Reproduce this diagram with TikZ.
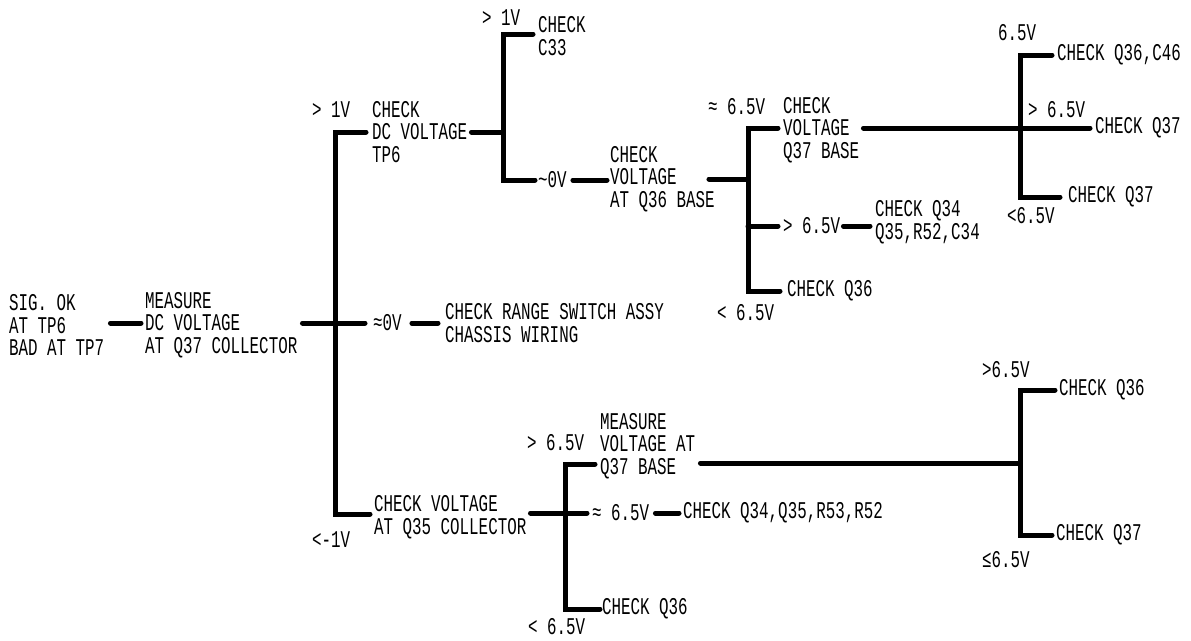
\documentclass[tikz,border=0pt]{standalone}
\usepackage{fontspec}
\newfontfamily\treefont[FakeStretch=0.66]{Liberation Mono}
\usetikzlibrary{positioning,calc}

\begin{document}
\begin{tikzpicture}[
            x=1pt, y=-1pt,
            font={\treefont\fontsize{24}{22.5}\selectfont},
            txt/.style={anchor=west, align=left, inner sep=0pt},
            volt/.style={anchor=west, inner sep=0pt},
            wire/.style={line width=5pt, line cap=round, line join=miter}
            ]
            \useasboundingbox (0,0) rectangle (1191,640);

            % ===== Start and first measurement =====
            \node[txt] (sig) at (9,325) {SIG. OK\\AT TP6\\BAD AT TP7};
            \node[txt] (meas) at (145,325) {MEASURE\\DC VOLTAGE\\AT Q37 COLLECTOR};
            \coordinate (t1) at (335,323);

            % ===== Branches of Q37 collector =====
            \node[txt] (dcv) at (372,132) {CHECK\\DC VOLTAGE\\TP6};
            \node[volt] (gtone) at (312,110) {> 1V};
            \node[volt] (zero) at (373,323) {≈0V};
            \node[txt] (range) at (445,323) {CHECK RANGE SWITCH ASSY\\CHASSIS WIRING};
            \node[txt] (qcoll) at (374,517) {CHECK VOLTAGE\\AT Q35 COLLECTOR};
            \node[volt] (ltone) at (312,540) {<-1V};

            % ===== TP6 branch =====
            \coordinate (t2) at (503,132);
            \node[txt] (cthree) at (538,36) {CHECK\\C33};
            \node[volt] (gtonetop) at (482,18) {> 1V};
            \node[volt] (nearzero) at (538,180) {\textasciitilde0V};
            \node[txt] (qbasesix) at (610,179) {CHECK\\VOLTAGE\\AT Q36 BASE};

            % ===== Q36 base branch =====
            \coordinate (t3) at (748,179);
            \node[txt] (qbaseseven) at (783,130) {CHECK\\VOLTAGE\\Q37 BASE};
            \node[volt] (apsix) at (708,107) {≈ 6.5V};
            \node[volt] (gtsix) at (783,226) {> 6.5V};
            \node[txt] (qfour) at (875,222) {CHECK Q34\\Q35,R52,C34};
            \node[volt] (qsixa) at (787,291) {CHECK Q36};
            \node[volt] (ltsix) at (717,313) {< 6.5V};

            % ===== Q37 base branch =====
            \coordinate (t4) at (1020,128);
            \node[volt] (cfour) at (1057,55) {CHECK Q36,C46};
            \node[volt] (sixv) at (998,33) {6.5V};
            \node[volt] (gtsixb) at (1028,110) {> 6.5V};
            \node[volt] (qsevena) at (1095,128) {CHECK Q37};
            \node[volt] (qsevenb) at (1068,197) {CHECK Q37};
            \node[volt] (ltsixb) at (1007,216) {<6.5V};

            % ===== Q35 collector branch =====
            \coordinate (t5) at (565,513);
            \node[txt] (mvolt) at (600,446) {MEASURE\\VOLTAGE AT\\Q37 BASE};
            \node[volt] (gtsixc) at (527,443) {> 6.5V};
            \node[volt] (apsixb) at (592,513) {≈ 6.5V};
            \node[volt] (qres) at (683,513) {CHECK Q34,Q35,R53,R52};
            \node[volt] (qsixb) at (602,609) {CHECK Q36};
            \node[volt] (ltsixc) at (528,627) {< 6.5V};

            % ===== Far right =====
            \coordinate (t6) at (1020,463);
            \node[volt] (qsixc) at (1059,390) {CHECK Q36};
            \node[volt] (qsevenc) at (1056,535) {CHECK Q37};
            \node[volt] (gtsixd) at (982,370) {>6.5V};
            \node[volt] (lesix) at (982,560) {≤6.5V};

            % ===== Wires =====
            \draw[wire] ([xshift=6pt]sig.east |- t1) -- ([xshift=-4pt]meas.west |- t1);
            \draw[wire] ([xshift=5pt]meas.east |- t1) -- ([xshift=-8pt]zero.west);
            \draw[wire] ([xshift=10pt]zero.east) -- ([xshift=-7pt]range.west);
            \draw[wire] ([xshift=-6pt]dcv.west) -| (t1) |- ([xshift=-4pt]qcoll.west |- 0,514);

            \draw[wire] ([xshift=4pt]dcv.east |- t2) -- (t2);
            \draw[wire] ([xshift=-5pt]cthree.west |- 0,34) -| (t2) |- ([xshift=-3pt]nearzero.west);
            \draw[wire] ([xshift=6pt]nearzero.east) -- ([xshift=-3pt]qbasesix.west |- nearzero.east);

            \draw[wire] ([xshift=-6pt]qbasesix.east) -- (t3);
            \draw[wire] ([xshift=-5pt]qbaseseven.west |- 0,128) -| (t3) |- ([xshift=-7pt]qsixa.west);
            \draw[wire] (t3 |- gtsix.west) -- ([xshift=-5pt]gtsix.west);
            \draw[wire] ([xshift=3pt]gtsix.east) -- ([xshift=-5pt]qfour.west |- gtsix.west);

            \draw[wire] ([xshift=4pt]qbaseseven.east |- t4) -- ([xshift=-5pt]qsevena.west);
            \draw[wire] ([xshift=-5pt]cfour.west) -| (t4) |- ([xshift=-8pt]qsevenb.west);

            \draw[wire] ([xshift=4pt]qcoll.east |- t5) -- ([xshift=-5pt]apsixb.west);
            \draw[wire] ([xshift=-5pt]mvolt.west |- 0,464) -| (t5) |- ([xshift=-2pt]qsixb.west);
            \draw[wire] ([xshift=6pt]apsixb.east) -- ([xshift=-4pt]qres.west);

            \draw[wire] ([xshift=5pt]mvolt.east |- t6) -- (t6);
            \draw[wire] ([xshift=-4pt]qsixc.west) -| (t6) |- ([xshift=-4pt]qsevenc.west);

        \end{tikzpicture}
\end{document}
